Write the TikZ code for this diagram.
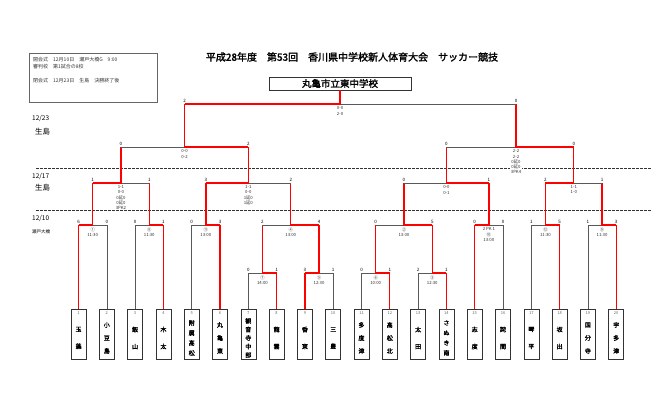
\documentclass[tikz,border=0pt]{standalone}
\usepackage{fontspec}
\setmainfont{Noto Sans CJK JP}[AutoFakeBold=2]
\begin{document}
\begin{tikzpicture}[x=1pt,y=-1pt,
 ln/.style={draw=black!65,line width=0.6pt},
 wn/.style={draw=red,line width=1.3pt},
 tbox/.style={draw=black!80,line width=0.6pt,minimum width=15pt,minimum height=50pt,inner sep=0pt},
 tnum/.style={font=\fontsize{4}{4}\selectfont,text=black!60,inner sep=0pt},
 tname/.style={align=center,inner sep=0pt},
 sc/.style={anchor=south,font=\fontsize{4.5}{5}\selectfont,inner sep=1pt},
 lb/.style={anchor=north,align=center,font=\fontsize{4.3}{5.2}\selectfont,inner sep=0.5pt,fill=white,text=black!80},
 dl/.style={draw=black!80,line width=0.6pt,dash pattern=on 3pt off 1pt}]
\useasboundingbox (0,0) rectangle (661,402);
\newcommand\tm[4]{%
 \node[tbox] (t#1) at (#2,334) {};
 \node[tnum] at (#2,313) {#1};
 \node[tname,font=\fontsize{6}{#4}\selectfont\bfseries] at (#2,338) {#3};}
\newcommand\mt[9]{%
 \draw[ln] (#1,#3) -- (#2,#3);
 \draw[wn] (#6,#3) -- (#4,#3) -- (#4,#5);
 \node[sc] at (#1,#3) {#7};
 \node[sc] at (#2,#3) {#8};
 \node[lb] at (#4,#3+2) {#9};}
% header
\node[font=\fontsize{10}{11}\selectfont\bfseries] (head) at (352,57) {平成28年度　第53回　香川県中学校新人体育大会　サッカー競技};
\node[draw=black!80,line width=0.6pt,minimum width=142pt,minimum height=13pt,inner sep=0pt,font=\fontsize{9.5}{10}\selectfont\bfseries] (title) at (340,83.5) {丸亀市立東中学校};
\node[draw=black!60,line width=0.6pt,minimum width=128pt,minimum height=49pt] (info) at (93,77.5) {};
\begin{scope}[every node/.style={anchor=west,font=\fontsize{5}{6}\selectfont,inner sep=0pt,text=black!80}]
\node (i1) at (33,60) {開会式　12月10日　瀬戸大橋G　9:00};
\node (i2) at (33,67) {審判校　第1試合の8校};
\node (i3) at (33,81) {閉会式　12月23日　生島　決勝終了後};
\end{scope}
% dates
\begin{scope}[every node/.style={anchor=west,inner sep=0pt}]
\node[font=\fontsize{6.5}{7}\selectfont] (d1) at (32,118) {12/23};
\node[font=\fontsize{7.5}{8}\selectfont] (p1) at (35,132) {生島};
\node[font=\fontsize{6.5}{7}\selectfont] (d2) at (32,176) {12/17};
\node[font=\fontsize{7.5}{8}\selectfont] (p2) at (35,188) {生島};
\node[font=\fontsize{6.5}{7}\selectfont] (d3) at (32,218) {12/10};
\node[font=\fontsize{4.5}{5}\selectfont] (p3) at (32,232) {瀬戸大橋};
\end{scope}
\draw[dl] (36,168) -- (652,168);
\draw[dl] (36,210) -- (652,210);
% teams
\tm{1}{78.5}{玉\\藻}{17}
\tm{2}{106.8}{小\\豆\\島}{13}
\tm{3}{135.1}{飯\\山}{17}
\tm{4}{163.4}{木\\太}{17}
\tm{5}{191.7}{附\\属\\高\\松}{10}
\tm{6}{220.0}{丸\\亀\\東}{13}
\tm{7}{248.3}{観\\音\\寺\\中\\部}{8.5}
\tm{8}{276.6}{龍\\雲}{17}
\tm{9}{304.9}{香\\東}{17}
\tm{10}{333.2}{三\\豊}{17}
\tm{11}{361.5}{多\\度\\津}{13}
\tm{12}{389.8}{高\\松\\北}{13}
\tm{13}{418.1}{太\\田}{17}
\tm{14}{446.4}{さ\\ぬ\\き\\南}{10}
\tm{15}{474.7}{志\\度}{17}
\tm{16}{503.0}{詫\\間}{17}
\tm{17}{531.3}{琴\\平}{17}
\tm{18}{559.6}{坂\\出}{17}
\tm{19}{587.9}{国\\分\\寺}{13}
\tm{20}{616.2}{宇\\多\\津}{13}
% team up-lines
\foreach \i in {2,3,5,16,17,19} \draw[ln] (t\i.north) -- (t\i.north |- 0,225);
\foreach \i in {1,4,6,15,18,20} \draw[wn] (t\i.north) -- (t\i.north |- 0,225);
\foreach \i in {7,10,11,13} \draw[ln] (t\i.north) -- (t\i.north |- 0,273);
\foreach \i in {8,9,12,14} \draw[wn] (t\i.north) -- (t\i.north |- 0,273);
% round 1
\mt{248.3}{276.6}{273}{262.45}{225}{276.6}{0}{1}{⑦\\14:00}
\mt{304.9}{333.2}{273}{319.05}{225}{304.9}{3}{1}{⑤\\12:30}
\mt{361.5}{389.8}{273}{375.65}{225}{389.8}{0}{1}{⑥\\10:00}
\mt{418.1}{446.4}{273}{432.25}{225}{446.4}{2}{1}{③\\12:30}
% round 2
\mt{78.5}{106.8}{225}{92.65}{183}{78.5}{6}{0}{①\\11:30}
\mt{135.1}{163.4}{225}{149.25}{183}{163.4}{0}{1}{⑧\\11:30}
\mt{191.7}{220.0}{225}{205.85}{183}{220.0}{0}{3}{⑪\\13:00}
\mt{262.45}{319.05}{225}{290.75}{183}{319.05}{2}{4}{④\\13:00}
\mt{375.65}{432.25}{225}{403.95}{183}{432.25}{0}{5}{②\\13:00}
\mt{474.7}{503.0}{225}{488.85}{183}{474.7}{0}{0}{2\ PK\ 1\\⑩\\13:00}
\mt{531.3}{559.6}{225}{545.45}{183}{559.6}{1}{5}{⑫\\11:30}
\mt{587.9}{616.2}{225}{602.05}{183}{616.2}{1}{3}{⑨\\11:30}
% round 3
\mt{92.65}{149.25}{183}{120.95}{147}{92.65}{1}{1}{1-1\\0-0\\0延0\\0延0\\3PK2}
\mt{205.85}{290.75}{183}{248.3}{147}{205.85}{3}{2}{1-1\\0-0\\1延0\\1延0}
\mt{403.95}{488.85}{183}{446.4}{147}{488.85}{0}{1}{0-0\\0-1}
\mt{545.45}{602.05}{183}{573.75}{147}{545.45}{2}{1}{1-1\\1-0}
% round 4
\mt{120.95}{248.3}{147}{184.6}{104}{248.3}{0}{2}{0-0\\0-2}
\mt{446.4}{573.75}{147}{516}{104}{573.75}{0}{0}{2-2\\2-2\\0延0\\0延0\\3PK4}
% final
\mt{184.6}{516}{104}{340}{90}{184.6}{2}{0}{0-0\\2-0}
\end{tikzpicture}
\end{document}
